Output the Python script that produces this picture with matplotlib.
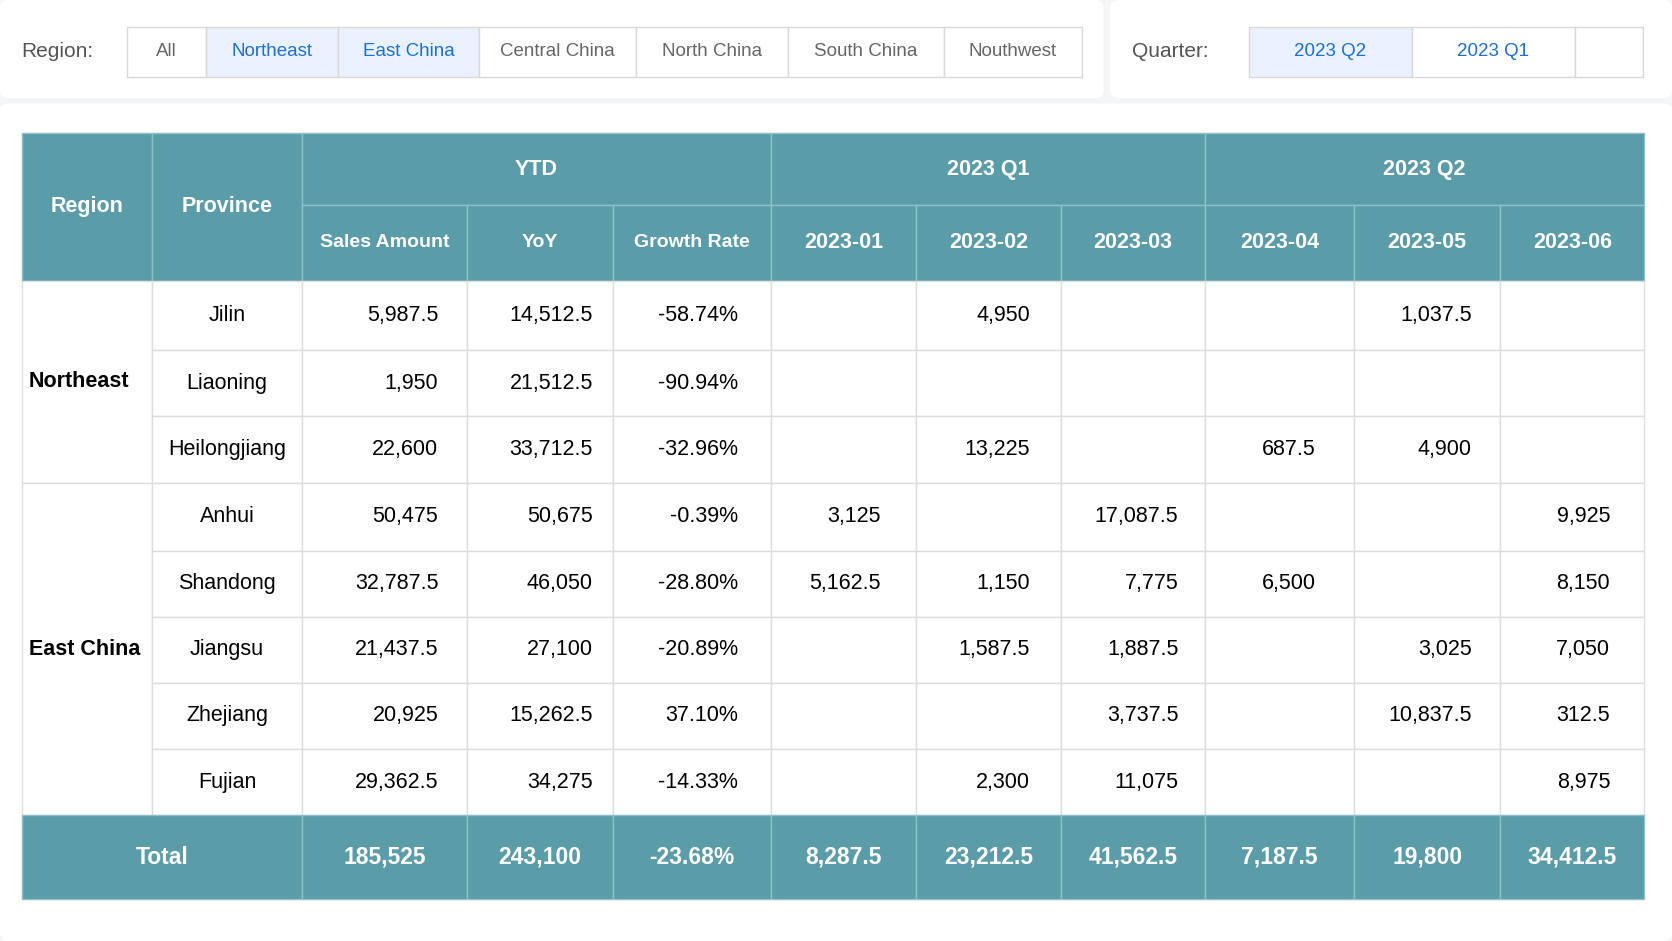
import matplotlib.pyplot as plt
from matplotlib.patches import Rectangle, FancyBboxPatch

plt.rcParams['font.family'] = ['Liberation Sans', 'DejaVu Sans']

region_buttons = ["All", "Northeast", "East China", "Central China", "North China", "South China", "Nouthwest"]
region_selected = ["Northeast", "East China"]
quarter_buttons = ["2023 Q2", "2023 Q1", ""]
quarter_selected = ["2023 Q2"]

months = ["2023-01", "2023-02", "2023-03", "2023-04", "2023-05", "2023-06"]
regions = ["Northeast", "East China"]
region_rows = [3, 5]
provinces = ["Jilin", "Liaoning", "Heilongjiang", "Anhui", "Shandong", "Jiangsu", "Zhejiang", "Fujian"]
sales = ["5,987.5", "1,950", "22,600", "50,475", "32,787.5", "21,437.5", "20,925", "29,362.5"]
yoy = ["14,512.5", "21,512.5", "33,712.5", "50,675", "46,050", "27,100", "15,262.5", "34,275"]
growth = ["-58.74%", "-90.94%", "-32.96%", "-0.39%", "-28.80%", "-20.89%", "37.10%", "-14.33%"]
monthly = [
    ["", "4,950", "", "", "1,037.5", ""],
    ["", "", "", "", "", ""],
    ["", "13,225", "", "687.5", "4,900", ""],
    ["3,125", "", "17,087.5", "", "", "9,925"],
    ["5,162.5", "1,150", "7,775", "6,500", "", "8,150"],
    ["", "1,587.5", "1,887.5", "", "3,025", "7,050"],
    ["", "", "3,737.5", "", "10,837.5", "312.5"],
    ["", "2,300", "11,075", "", "", "8,975"],
]
totals = ["185,525", "243,100", "-23.68%", "8,287.5", "23,212.5", "41,562.5", "7,187.5", "19,800", "34,412.5"]

W, H = 1568, 882
fig = plt.figure(figsize=(16.72, 9.41), dpi=100)
ax = fig.add_axes([0, 0, 1, 1])
ax.set_xlim(0, W); ax.set_ylim(H, 0); ax.axis('off')
fig.patch.set_facecolor('#f5f6f8')

def panel(x0, y0, x1, y1):
    ax.add_patch(FancyBboxPatch((x0, y0), x1 - x0, y1 - y0, boxstyle="round,pad=0,rounding_size=8",
                                fc='white', ec='none', zorder=0))
panel(0, 0, 1035, 92); panel(1041, 0, 1568, 92); panel(0, 97, 1568, 882)

FS = 15.5
# filter bars
ax.text(20, 48, "Region:", fontsize=15, color='#555555', va='center', ha='left')
rx = [119, 193, 317, 449, 596, 739, 885, 1015]
for i, b in enumerate(region_buttons):
    sel = b in region_selected
    ax.add_patch(Rectangle((rx[i], 25), rx[i+1] - rx[i], 47, fc='#e8f1fd' if sel else 'white',
                           ec='#d9d9d9', lw=1, zorder=1))
    ax.text((rx[i] + rx[i+1]) / 2, 48.5, b, fontsize=13.5, ha='center', va='center',
            color='#1f6fd1' if sel else '#666666', zorder=2)
ax.text(1062, 48, "Quarter:", fontsize=15, color='#555555', va='center', ha='left')
qx = [1171, 1324, 1477, 1541]
for i, b in enumerate(quarter_buttons):
    sel = b in quarter_selected
    ax.add_patch(Rectangle((qx[i], 25), qx[i+1] - qx[i], 47, fc='#e8f1fd' if sel else 'white',
                           ec='#d9d9d9', lw=1, zorder=1))
    ax.text((qx[i] + qx[i+1]) / 2, 48.5, b, fontsize=13.5, ha='center', va='center',
            color='#1f6fd1', zorder=2)

# table
cx = [21, 143, 283, 438, 575, 723, 859, 995, 1130, 1270, 1407, 1542]
ry = [125, 192, 263, 328, 390, 453, 516, 578, 640, 702, 764, 843]
HC = '#5b9ca9'; HL = '#8cc0ca'; BL = '#dddddd'

def cell(x0, x1, y0, y1, fc, ec):
    ax.add_patch(Rectangle((x0, y0), x1 - x0, y1 - y0, fc=fc, ec=ec, lw=1, zorder=1))

def htext(x, y, s, size=FS):
    ax.text(x, y, s, fontsize=size, ha='center', va='center', color='white', fontweight='bold', zorder=3)

cell(cx[0], cx[1], ry[0], ry[2], HC, HL); htext((cx[0]+cx[1])/2, (ry[0]+ry[2])/2, "Region")
cell(cx[1], cx[2], ry[0], ry[2], HC, HL); htext((cx[1]+cx[2])/2, (ry[0]+ry[2])/2, "Province")
groups = [("YTD", 2, 5), ("2023 Q1", 5, 8), ("2023 Q2", 8, 11)]
for name, a, b in groups:
    cell(cx[a], cx[b], ry[0], ry[1], HC, HL); htext((cx[a]+cx[b])/2, (ry[0]+ry[1])/2, name)
subs = ["Sales Amount", "YoY", "Growth Rate"] + months
for j, s in enumerate(subs):
    c = j + 2
    cell(cx[c], cx[c+1], ry[1], ry[2], HC, HL)
    htext((cx[c]+cx[c+1])/2, (ry[1]+ry[2])/2, s, size=14 if j < 3 else FS)

right_x = [411, 556, 692, 826, 966, 1105, 1234, 1380, 1510]
r = 0
for reg, n in zip(regions, region_rows):
    cell(cx[0], cx[1], ry[2+r], ry[2+r+n], 'white', BL)
    ax.text(27, (ry[2+r] + ry[2+r+n]) / 2, reg, fontsize=FS, fontweight='bold', ha='left', va='center', zorder=3)
    r += n
for i, p in enumerate(provinces):
    y0, y1 = ry[2+i], ry[3+i]; ym = (y0 + y1) / 2
    cell(cx[1], cx[2], y0, y1, 'white', BL)
    ax.text((cx[1]+cx[2])/2, ym, p, fontsize=FS, ha='center', va='center', zorder=3)
    vals = [sales[i], yoy[i], growth[i]] + monthly[i]
    for j, v in enumerate(vals):
        cell(cx[j+2], cx[j+3], y0, y1, 'white', BL)
        ax.text(right_x[j], ym, v, fontsize=FS, ha='right', va='center', zorder=3)

y0, y1 = ry[10], ry[11]; ym = (y0 + y1) / 2
cell(cx[0], cx[2], y0, y1, HC, HL); htext((cx[0]+cx[2])/2, ym, "Total", size=16.5)
for j, v in enumerate(totals):
    cell(cx[j+2], cx[j+3], y0, y1, HC, HL); htext((cx[j+2]+cx[j+3])/2, ym, v, size=16.5)

fig.savefig("out.png", dpi=100, facecolor=fig.get_facecolor())
